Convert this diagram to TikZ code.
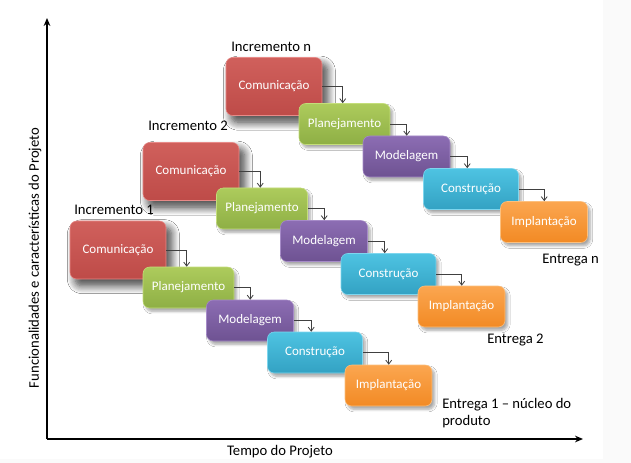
\documentclass[tikz,border=0pt]{standalone}
\usepackage{fontspec}
\setmainfont{Carlito}
\usetikzlibrary{arrows.meta,shadows.blur}
\definecolor{redA}{HTML}{D0605C}\definecolor{redB}{HTML}{BE4B48}\definecolor{redD}{HTML}{E88A88}
\definecolor{grnA}{HTML}{ADCB5C}\definecolor{grnB}{HTML}{8EAF45}\definecolor{grnD}{HTML}{C4DE7A}
\definecolor{purA}{HTML}{8C6DB3}\definecolor{purB}{HTML}{6E5292}\definecolor{purD}{HTML}{A68BC8}
\definecolor{cyaA}{HTML}{4EC3E2}\definecolor{cyaB}{HTML}{33A2C3}\definecolor{cyaD}{HTML}{7ED6EE}
\definecolor{orgA}{HTML}{FBA650}\definecolor{orgB}{HTML}{F28A24}\definecolor{orgD}{HTML}{FCC07E}
\definecolor{conncol}{HTML}{404040}
\begin{document}
\begin{tikzpicture}[x=0.75pt,y=-0.75pt,
  box/.style={rounded corners=5pt, text=white, inner sep=0pt, minimum height=30.75pt,
    font=\fontsize{9.75}{11}\selectfont,
    blur shadow={shadow xshift=2pt, shadow yshift=-2.5pt, shadow blur steps=6, shadow opacity=35}},
  comm/.style={box, top color=redA, bottom color=redB, draw=redD, minimum width=72pt, minimum height=43.5pt,
    blur shadow={shadow xshift=4pt, shadow yshift=-5pt, shadow blur radius=6pt, shadow blur steps=8, shadow opacity=45}},
  plan/.style={box, top color=grnA, bottom color=grnB, draw=grnD, minimum width=68.25pt},
  mode/.style={box, top color=purA, bottom color=purB, draw=purD, minimum width=65.25pt},
  cons/.style={box, top color=cyaA, bottom color=cyaB, draw=cyaD, minimum width=71.25pt},
  impl/.style={box, top color=orgA, bottom color=orgB, draw=orgD, minimum width=65.25pt},
  conn/.style={draw=conncol, line width=0.6pt, -{Straight Barb[length=3pt,width=4.5pt]}},
  lbl/.style={font=\fontsize{11}{13}\selectfont, inner sep=0pt, anchor=west},
  axis/.style={line width=1.3pt, -{Stealth[length=6pt,width=5pt]}}]
\useasboundingbox (0,0) rectangle (631,463);
\fill[black!2] (0,0) rectangle (631,463);
\fill[white] (0,0) rectangle (603,459);

% axes
\coordinate (O) at (47,439);
\coordinate (Ytop) at (47,18);
\coordinate (Xend) at (583,439);
\draw[axis] (O) -- (Ytop);
\draw[axis] (O) -- (Xend);
\node[font=\fontsize{11}{13}\selectfont, rotate=90, inner sep=0pt] (ylab) at (35,258) {Funcionalidades e características do Projeto};
\node[font=\fontsize{11}{13}\selectfont, inner sep=0pt] (xlab) at (280,452) {Tempo do Projeto};

% Increment n
\node[comm] (Cn) at (274,86.5) {Comunicação};
\node[plan] (Pn) at (344.5,124) {Planejamento};
\node[mode] (Mn) at (406.5,156.5) {Modelagem};
\node[cons] (Kn) at (471,189) {Construção};
\node[impl] (In) at (544,222) {Implantação};
% Increment 2
\node[comm] (C2) at (191,171.5) {Comunicação};
\node[plan] (P2) at (262,208.5) {Planejamento};
\node[mode] (M2) at (324,241) {Modelagem};
\node[cons] (K2) at (388.5,274) {Construção};
\node[impl] (I2) at (461.5,306.5) {Implantação};
% Increment 1
\node[comm] (C1) at (118,250) {Comunicação};
\node[plan] (P1) at (188.5,287.5) {Planejamento};
\node[mode] (M1) at (250,320.5) {Modelagem};
\node[cons] (K1) at (315,352.5) {Construção};
\node[impl] (I1) at (388.5,385.5) {Implantação};

% connectors
\foreach \s in {n,2,1}{
  \draw[conn] (C\s.east) -| ([xshift=33pt]P\s.north west);
  \draw[conn] (P\s.east) -| ([xshift=33pt]M\s.north west);
  \draw[conn] (M\s.east) -| ([xshift=33pt]K\s.north west);
  \draw[conn] (K\s.east) -| ([xshift=33pt]I\s.north west);
}

% labels
\node[lbl] (incn) at (231,47) {Incremento n};
\node[lbl] (inc2) at (148,126) {Incremento 2};
\node[lbl] (inc1) at (74,210) {Incremento 1};
\node[lbl] (entn) at (542,260) {Entrega n};
\node[lbl] (ent2) at (487,340) {Entrega 2};
\node[lbl, align=left, font=\fontsize{11}{12.75}\selectfont] (ent1) at (442,413.5) {Entrega 1 – núcleo do\\produto};
\end{tikzpicture}
\end{document}
